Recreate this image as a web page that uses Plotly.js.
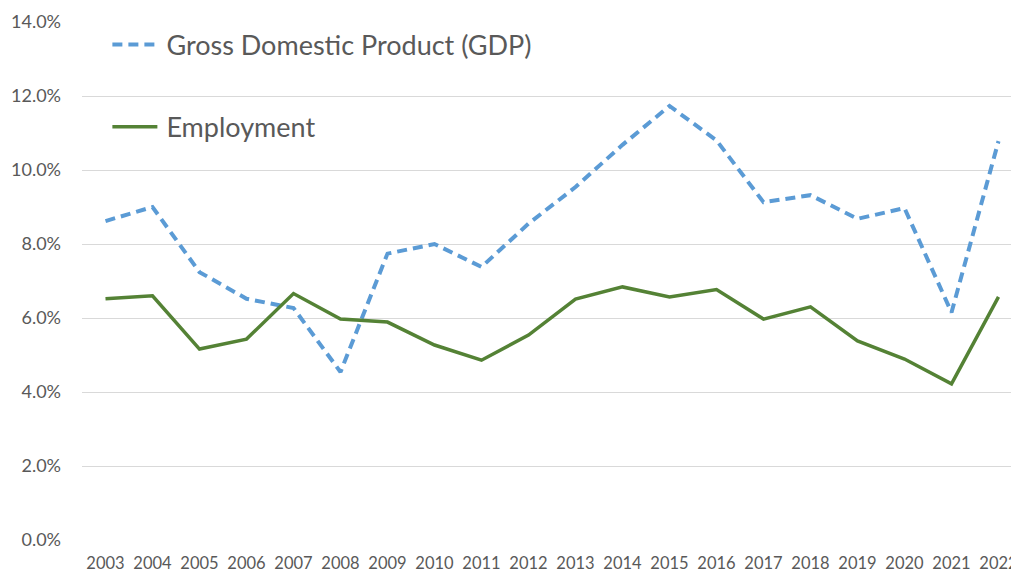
<!DOCTYPE html>
<html>
<head>
<meta charset="utf-8">
<script src="https://cdn.plot.ly/plotly-3.0.1.min.js"></script>
<style>
html,body{margin:0;padding:0;overflow:hidden;background:#fff;width:1011px;height:571px;}
#chart{width:1022px;height:571px;}
</style>
</head>
<body>
<div id="chart"></div>
<script>
const years = ["2003","2004","2005","2006","2007","2008","2009","2010","2011","2012","2013","2014","2015","2016","2017","2018","2019","2020","2021","2022"];
const gdp = [8.62, 9.0, 7.24, 6.52, 6.27, 4.54, 7.74, 8.0, 7.38, 8.55, 9.54, 10.68, 11.73, 10.8, 9.13, 9.32, 8.68, 8.97, 6.15, 10.78];
const employment = [6.52, 6.6, 5.16, 5.43, 6.66, 5.97, 5.89, 5.27, 4.86, 5.54, 6.51, 6.84, 6.57, 6.77, 5.97, 6.3, 5.38, 4.89, 4.22, 6.57];
const yTicks = [0, 2, 4, 6, 8, 10, 12, 14];

const font = "Lato, 'Open Sans', sans-serif";
const grey = "#595959";

const traces = [
  {
    x: years, y: gdp, type: "scatter", mode: "lines",
    name: "Gross Domestic Product (GDP)",
    line: {color: "#5B9BD5", width: 4, dash: "10px,6px"},
    legend: "legend"
  },
  {
    x: years, y: employment, type: "scatter", mode: "lines",
    name: "Employment",
    line: {color: "#548235", width: 3.5},
    legend: "legend2"
  }
];

const legendCommon = {
  xanchor: "left", yanchor: "middle", itemwidth: 49,
  bgcolor: "rgba(0,0,0,0)", font: {size: 27, color: grey, family: font}
};

const layout = {
  width: 1022, height: 571,
  margin: {l: 82, r: 0, t: 22, b: 31},
  paper_bgcolor: "#fff", plot_bgcolor: "#fff",
  font: {family: font, color: grey},
  xaxis: {
    type: "category", range: [-0.5, 19.5],
    showgrid: false, showline: false, zeroline: false,
    ticks: "", ticklabelstandoff: 11,
    tickfont: {size: 16.5, color: grey, family: font}
  },
  yaxis: {
    range: [0, 14], tickvals: yTicks,
    ticktext: yTicks.map(v => v.toFixed(1) + "%"),
    showgrid: true, gridcolor: "#d9d9d9", gridwidth: 1,
    zeroline: false, showline: false, ticks: "",
    ticklabelstandoff: 20,
    tickfont: {size: 18, color: grey, family: font}
  },
  showlegend: true,
  legend: Object.assign({x: 0.027, y: 0.9556}, legendCommon),
  legend2: Object.assign({x: 0.027, y: 0.797}, legendCommon)
};

Plotly.newPlot("chart", traces, layout, {displayModeBar: false, staticPlot: true}).then(function(gd){
  // lengthen the legend sample lines to match the reference style
  gd.querySelectorAll(".legendlines path, .legendlines .js-line").forEach(function(p){
    p.setAttribute("d", "M5,0h45");
  });
});
</script>
</body>
</html>
